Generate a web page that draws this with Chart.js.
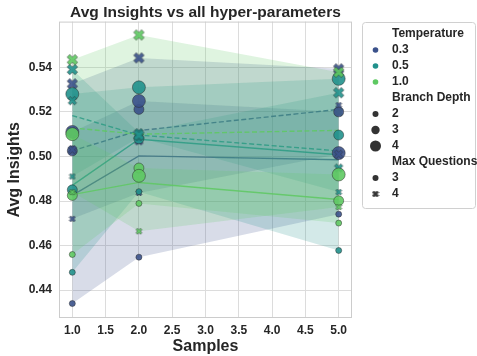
<!DOCTYPE html>
<html>
<head>
<meta charset="utf-8">
<script src="https://cdn.jsdelivr.net/npm/chart.js@4.4.1/dist/chart.umd.min.js"></script>
<style>
  html, body { margin: 0; padding: 0; background: #fff; }
  #wrap { width: 477px; height: 356px; position: relative; }
</style>
</head>
<body>
<div id="wrap"><canvas id="hp" width="477" height="356"></canvas></div>
<script>
// ─── Data ────────────────────────────────────────────────────
const samples      = [1, 2, 5];
const temperatures = ['0.3', '0.5', '1.0'];
const branchDepths = [2, 3, 4];
const maxQuestions = [3, 4];
const xTicks = [1.0, 1.5, 2.0, 2.5, 3.0, 3.5, 4.0, 4.5, 5.0];
const yTicks = [0.44, 0.46, 0.48, 0.50, 0.52, 0.54];

// Avg Insights at samples 1, 2, 5 – one array per (temperature, depth, max questions)
const t03_d2_q3 = [0.434, 0.4548, 0.4741];
const t03_d3_q3 = [0.5025, 0.5211, 0.520];
const t03_d4_q3 = [0.511, 0.5249, 0.5015];
const t03_d2_q4 = [0.472, 0.4836, 0.523];
const t03_d3_q4 = [0.503, 0.507, 0.501];
const t03_d4_q4 = [0.5326, 0.5442, 0.5393];

const t05_d2_q3 = [0.448, 0.4842, 0.4578];
const t05_d3_q3 = [0.485, 0.5079, 0.5096];
const t05_d4_q3 = [0.528, 0.531, 0.5348];
const t05_d2_q4 = [0.491, 0.5085, 0.484];
const t05_d3_q4 = [0.525, 0.5107, 0.4948];
const t05_d4_q4 = [0.539, 0.5096, 0.5286];

const t10_d2_q3 = [0.456, 0.4789, 0.4701];
const t10_d3_q3 = [0.4825, 0.4948, 0.4801];
const t10_d4_q3 = [0.510, 0.4913, 0.4919];
const t10_d2_q4 = [0.484, 0.4664, 0.4773];
const t10_d3_q4 = [0.511, 0.509, 0.520];
const t10_d4_q4 = [0.5434, 0.5545, 0.5378];

// z: marker stacking (higher = further back)
const combos = [
    { t: 0, d: 2, q: 3, v: t03_d2_q3, z: 50 }, { t: 0, d: 3, q: 3, v: t03_d3_q3, z: 49 }, { t: 0, d: 4, q: 3, v: t03_d4_q3, z: 48 },
    { t: 0, d: 2, q: 4, v: t03_d2_q4, z: 47 }, { t: 0, d: 3, q: 4, v: t03_d3_q4, z: 46 }, { t: 0, d: 4, q: 4, v: t03_d4_q4, z: 45 },
    { t: 1, d: 2, q: 3, v: t05_d2_q3, z: 44 }, { t: 1, d: 3, q: 3, v: t05_d3_q3, z: 43 }, { t: 1, d: 4, q: 3, v: t05_d4_q3, z: 42 },
    { t: 1, d: 2, q: 4, v: t05_d2_q4, z: 41 }, { t: 1, d: 3, q: 4, v: t05_d3_q4, z: 40 }, { t: 1, d: 4, q: 4, v: t05_d4_q4, z: 39 },
    { t: 2, d: 2, q: 3, v: t10_d2_q3, z: 38 }, { t: 2, d: 3, q: 3, v: t10_d3_q3, z: 37 }, { t: 2, d: 4, q: 3, v: t10_d4_q3, z: 36 },
    { t: 2, d: 2, q: 4, v: t10_d2_q4, z: 35 }, { t: 2, d: 3, q: 4, v: t10_d3_q4, z: 60 }, { t: 2, d: 4, q: 4, v: t10_d4_q4, z: 33 },
];

// ─── Styles ──────────────────────────────────────────────────
const FONT = "'Liberation Sans', Arial, sans-serif";
const TEXT = '#262626';
const tempColors = ['#3b528b', '#21918c', '#5ec962'];
const circleRadius = { 2: 3, 3: 5, 4: 6.5 };
const crossSize    = { 2: 6, 3: 8.5, 4: 10.5 };

function rgba(hex, a) {
    const n = parseInt(hex.slice(1), 16);
    return `rgba(${n >> 16},${(n >> 8) & 255},${n & 255},${a})`;
}

// filled "X" marker, like matplotlib's 'X'
function makeCross(size, fill, edge) {
    const c = document.createElement('canvas');
    const s = Math.ceil(size + 2);
    c.width = s; c.height = s;
    const g = c.getContext('2d');
    const pts = [[0.25,0],[0.5,0.25],[0.75,0],[1,0.25],[0.75,0.5],[1,0.75],[0.75,1],[0.5,0.75],[0.25,1],[0,0.75],[0.25,0.5],[0,0.25]];
    const o = (s - size) / 2;
    g.beginPath();
    pts.forEach(([px, py], i) => {
        const x = o + px * size, y = o + py * size;
        i ? g.lineTo(x, y) : g.moveTo(x, y);
    });
    g.closePath();
    g.fillStyle = fill; g.fill();
    g.lineWidth = 0.8; g.strokeStyle = edge; g.stroke();
    return c;
}

// ─── Datasets ────────────────────────────────────────────────
// Chart.js draws higher `order` first, so later groups end up on top
const datasets = [];
let order = 200;

// mean line + min/max band per (temperature, max questions), like seaborn's lineplot
temperatures.forEach((_, ti) => {
    maxQuestions.forEach(q => {
        const grp = combos.filter(c => c.t === ti && c.q === q);
        const lo   = samples.map((x, i) => ({ x, y: Math.min(...grp.map(c => c.v[i])) }));
        const hi   = samples.map((x, i) => ({ x, y: Math.max(...grp.map(c => c.v[i])) }));
        const mean = samples.map((x, i) => ({ x, y: grp.reduce((s, c) => s + c.v[i], 0) / grp.length }));
        const col = tempColors[ti];

        const loIdx = datasets.length;
        datasets.push({ data: lo, borderWidth: 0, pointRadius: 0, fill: false, order: order-- });
        datasets.push({ data: hi, borderWidth: 0, pointRadius: 0, fill: loIdx,
                        backgroundColor: rgba(col, 0.2), order: order-- });
        datasets.push({ data: mean, borderColor: rgba(col, 0.85), borderWidth: 1.4,
                        borderDash: q === 4 ? [5, 2.5] : [], pointRadius: 0, fill: false, order: order-- });
    });
});

// individual runs as markers
combos.forEach(c => {
    const col = tempColors[c.t];
    const base = {
        data: samples.map((x, i) => ({ x, y: c.v[i] })),
        showLine: false,
        fill: false,
        order: c.z,
    };
    if (c.q === 3) {
        Object.assign(base, {
            pointStyle: 'circle',
            pointRadius: circleRadius[c.d],
            backgroundColor: rgba(col, 0.9),
            borderColor: 'rgba(40,40,40,0.6)',
            borderWidth: 0.8,
        });
    } else {
        Object.assign(base, {
            pointStyle: makeCross(crossSize[c.d], rgba(col, 0.9), 'rgba(40,40,40,0.6)'),
            pointRadius: crossSize[c.d] / 2,
        });
    }
    datasets.push(base);
});

// ─── Plugins ─────────────────────────────────────────────────
const framePlugin = {
    id: 'frame',
    beforeDatasetsDraw(chart) {
        const { ctx, chartArea: a } = chart;
        ctx.save();
        ctx.strokeStyle = '#cccccc';
        ctx.lineWidth = 1;
        ctx.strokeRect(a.left + 0.5, a.top + 0.5, a.right - a.left - 1, a.bottom - a.top - 1);
        ctx.restore();
    }
};

const legendRows = [
    { title: 'Temperature' },
    { label: '0.3', kind: 'dot', color: tempColors[0] },
    { label: '0.5', kind: 'dot', color: tempColors[1] },
    { label: '1.0', kind: 'dot', color: tempColors[2] },
    { title: 'Branch Depth' },
    { label: '2', kind: 'dot', r: 3 },
    { label: '3', kind: 'dot', r: 4.2 },
    { label: '4', kind: 'dot', r: 5.5 },
    { title: 'Max Questions' },
    { label: '3', kind: 'dot', r: 3 },
    { label: '4', kind: 'cross' },
];

const legendPlugin = {
    id: 'hpLegend',
    afterDraw(chart) {
        const ctx = chart.ctx;
        ctx.save();
        ctx.beginPath();
        ctx.roundRect(362.5, 22.5, 113, 186, 3);
        ctx.fillStyle = 'rgba(255,255,255,0.85)';
        ctx.fill();
        ctx.strokeStyle = '#d0d0d0';
        ctx.lineWidth = 1;
        ctx.stroke();

        ctx.font = `bold 12px ${FONT}`;
        ctx.textBaseline = 'middle';
        ctx.textAlign = 'left';
        legendRows.forEach((row, i) => {
            const y = 34 + i * 16;
            ctx.fillStyle = TEXT;
            if (row.title) { ctx.fillText(row.title, 392, y); return; }
            ctx.fillText(row.label, 392, y);
            if (row.kind === 'dot') {
                ctx.beginPath();
                ctx.arc(375.5, y, row.r || 2.8, 0, Math.PI * 2);
                ctx.fillStyle = row.color || '#333333';
                ctx.fill();
            } else {
                const img = makeCross(6, '#333333', '#333333');
                ctx.drawImage(img, 375.5 - img.width / 2, y - img.height / 2);
            }
        });
        ctx.restore();
    }
};

// ─── Chart ───────────────────────────────────────────────────
new Chart(document.getElementById('hp'), {
    type: 'line',
    data: { datasets },
    plugins: [framePlugin, legendPlugin],
    options: {
        responsive: false,
        animation: false,
        events: [],
        layout: { padding: { left: 0, right: 125, top: 0, bottom: 0 } },
        elements: { line: { tension: 0 } },
        plugins: {
            legend: { display: false },
            tooltip: { enabled: false },
            title: {
                display: true,
                text: 'Avg Insights vs all hyper-parameters',
                fullSize: false,
                color: TEXT,
                font: { family: FONT, size: 15.5, weight: 'bold' },
                padding: { top: 3, bottom: 0 },
            },
            filler: { propagate: false },
        },
        scales: {
            x: {
                type: 'linear',
                min: 0.8, max: 5.2,
                afterBuildTicks: axis => { axis.ticks = xTicks.map(v => ({ value: v })); },
                afterFit: axis => { axis.height = 38; },
                grid: { color: '#dcdcdc', drawTicks: false },
                border: { display: false },
                ticks: {
                    color: TEXT, padding: 5,
                    font: { family: FONT, size: 12, weight: 'bold' },
                    callback: v => Number(v).toFixed(1),
                },
                title: {
                    display: true, text: 'Samples', color: TEXT,
                    font: { family: FONT, size: 16, weight: 'bold' },
                    padding: { top: 0, bottom: 0 },
                },
            },
            y: {
                min: 0.4275, max: 0.5605,
                afterBuildTicks: axis => { axis.ticks = yTicks.map(v => ({ value: v })); },
                afterFit: axis => { axis.width = 59; },
                grid: { color: '#dcdcdc', drawTicks: false },
                border: { display: false },
                ticks: {
                    color: TEXT, padding: 7,
                    font: { family: FONT, size: 12, weight: 'bold' },
                    callback: v => Number(v).toFixed(2),
                },
                title: {
                    display: true, text: 'Avg Insights', color: TEXT,
                    font: { family: FONT, size: 16, weight: 'bold' },
                    padding: { top: 5, bottom: 0 },
                },
            },
        },
    },
});
</script>
</body>
</html>
